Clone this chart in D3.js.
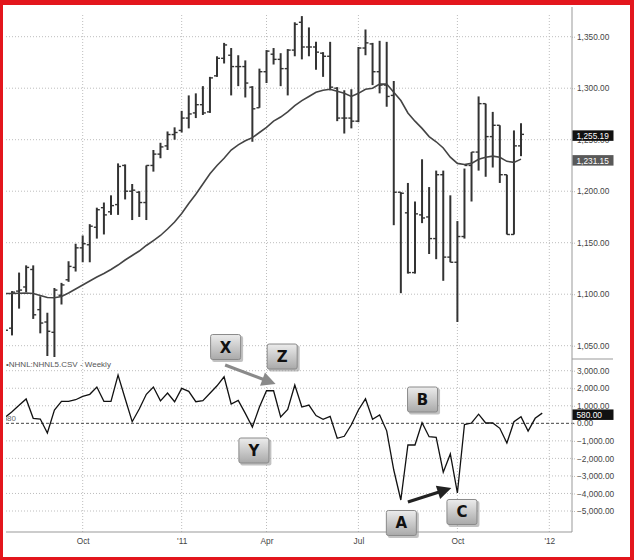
<!DOCTYPE html>
<html><head><meta charset="utf-8">
<script src="https://cdn.jsdelivr.net/npm/d3@7"></script>
<style>body{margin:0;background:#fff}svg{display:block}</style>
</head><body>
<svg id="c" width="634" height="560"></svg>
<script>
// ---------- DATA ----------
const firstWeek = "2010-07-16";   // weekly bars (Fridays)
const open  = [1070,1067,1103,1107,1124,1085,1073,1063,1099,1114,1126,1145,1148,1165,1184,1180,1187,1225,1200,1199,1189,1225,1236,1244,1255,1259,1271,1276,1284,1277,1312,1329,1332,1321,1321,1301,1281,1316,1333,1328,1319,1337,1364,1340,1340,1334,1331,1300,1271,1271,1268,1339,1343,1316,1303,1293,1199,1179,1121,1177,1175,1154,1216,1136,1131,1156,1225,1238,1285,1253,1264,1216,1158,1244];
const high  = [1076,1103,1121,1128,1128,1098,1082,1106,1111,1132,1149,1157,1168,1184,1189,1196,1227,1226,1207,1200,1225,1240,1247,1258,1262,1278,1293,1295,1302,1311,1331,1344,1339,1332,1327,1302,1319,1337,1339,1334,1338,1364,1370,1359,1345,1335,1345,1301,1298,1299,1340,1357,1344,1346,1345,1307,1199,1208,1190,1231,1204,1220,1220,1196,1171,1222,1238,1292,1285,1277,1264,1216,1259,1266];
const low   = [1058,1060,1086,1102,1076,1062,1040,1039,1090,1112,1122,1131,1131,1154,1158,1177,1177,1192,1172,1175,1172,1219,1232,1240,1250,1257,1261,1271,1274,1276,1311,1324,1293,1302,1291,1248,1281,1305,1323,1302,1293,1331,1328,1331,1318,1311,1298,1268,1256,1261,1267,1332,1303,1295,1282,1167,1101,1120,1120,1169,1139,1134,1113,1131,1073,1154,1190,1220,1214,1223,1208,1158,1158,1234];
const close = [1065,1102,1104,1126,1080,1072,1064,1104,1109,1127,1145,1149,1166,1182,1177,1186,1224,1200,1201,1189,1225,1236,1243,1255,1257,1271,1275,1284,1276,1310,1329,1342,1321,1321,1305,1280,1316,1336,1328,1319,1337,1362,1340,1340,1335,1331,1301,1271,1271,1268,1339,1344,1316,1303,1292,1199,1198,1121,1178,1174,1154,1216,1136,1131,1156,1225,1238,1285,1253,1264,1216,1158,1244,1255.19];
const movingAvg = [1100.7,1100.7,1100.9,1101.2,1100.7,1098.7,1096.8,1096.6,1097.8,1101.2,1105.0,1108.9,1112.8,1116.7,1120.1,1124.0,1128.3,1133.2,1137.6,1141.9,1147.3,1152.1,1157.0,1163.3,1170.1,1178.3,1188.1,1197,1207,1217,1225,1232,1240,1245,1249,1252,1257,1262,1268,1272,1277,1283,1288,1292,1296,1298,1299,1297,1295,1292,1295,1299,1300,1304,1304,1296,1288,1276,1268,1261,1253,1248,1242,1233,1227,1226,1227,1231,1233,1234,1233,1229,1228,1231.15];
const nhnl = [330,660,1030,1390,285,245,-553,758,1254,1254,1345,1539,1653,2069,1254,1254,2753,1414,91,815,1653,2069,1283,1727,1231,1995,1824,1231,1288,1710,2138,2656,1100,1311,570,-211,929,1858,1858,359,798,2183,929,1043,445,228,399,-855,-741,-80,758,1397,228,473,-428,-2662,-4372,-1237,-1237,34,-764,-798,-2787,-1750,-3973,-68,17,519,17,17,-285,-1123,91,376,-439,285,580];
const priceTicks = [1050,1100,1150,1200,1250,1300,1350];
const nhnlTicks = [-5000,-4000,-3000,-2000,-1000,0,1000,2000,3000];
const timeTicks = ["2010-10-01","2011-01-07","2011-04-01","2011-07-01","2011-10-07","2012-01-06"];
const timeTickLabels = ["Oct","'11","Apr","Jul","Oct","'12"];
const seriesTitle = "\u2022NHNL:NHNL5.CSV - Weekly";
const annoLabels = ["X","Z","Y","B","A","C"];
const annoDates  = ["2011-02-20","2011-04-17","2011-03-20","2011-09-03","2011-08-13","2011-10-12"];
const annoValues = [4350,3808,-1551,1357,-5684,-5057];
const arrowFrom = [["2011-02-19",3324],["2011-08-19",-4487]];
const arrowTo   = [["2011-04-10",2240],["2011-10-01",-3689]];
const arrowColors = ["#8a8a8a","#222"];

// ---------- LAYOUT ----------
const L=6, R=572, pTop=7, pBot=359, iBot=532;
const parse = d3.timeParse("%Y-%m-%d");
const t0 = parse(firstWeek);
const svg = d3.select("#c");
const font = "Arial, 'Liberation Sans', sans-serif";

const x = d3.scaleTime().domain([parse("2010-10-01"), parse("2012-01-06")]).range([82.7, 549.3]);
const yP = d3.scaleLinear().domain([1050,1350]).range([345.7,36.7]);
const yI = d3.scaleLinear().domain([-5000,3000]).range([511,370.7]);

const bars = open.map((o,i)=>({date:d3.timeDay.offset(t0,7*i),o,h:high[i],l:low[i],c:close[i],ma:movingAvg[i]}));
const ind = nhnl.map((v,i)=>({date:d3.timeDay.offset(t0,7*i),v}));

const defs = svg.append("defs");
defs.append("clipPath").attr("id","cp").append("rect").attr("x",L).attr("y",pTop).attr("width",R-L).attr("height",pBot-pTop);
defs.append("clipPath").attr("id","ci").append("rect").attr("x",L).attr("y",pBot).attr("width",R-L).attr("height",iBot-pBot);
defs.append("clipPath").attr("id","cl").append("rect").attr("x",L).attr("y",0).attr("width",R-L).attr("height",560);
const grad = defs.append("linearGradient").attr("id","bg").attr("x1",0).attr("y1",0).attr("x2",0).attr("y2",1);
grad.append("stop").attr("offset","0%").attr("stop-color","#ececec");
grad.append("stop").attr("offset","100%").attr("stop-color","#a9a9a9");

// grid
const grid = svg.append("g");
grid.selectAll(".gp").data(priceTicks).join("line")
  .attr("x1",L).attr("x2",R).attr("y1",d=>yP(d)).attr("y2",d=>yP(d))
  .attr("stroke","#bdbdbd").attr("stroke-dasharray","1,2");
grid.selectAll(".gi").data(nhnlTicks.filter(d=>d!==0)).join("line")
  .attr("x1",L).attr("x2",R).attr("y1",d=>yI(d)).attr("y2",d=>yI(d))
  .attr("stroke","#bdbdbd").attr("stroke-dasharray","1,2");
grid.selectAll(".gv").data(timeTicks).join("line")
  .attr("x1",d=>x(parse(d))).attr("x2",d=>x(parse(d))).attr("y1",15).attr("y2",iBot)
  .attr("stroke","#bdbdbd").attr("stroke-dasharray","1,2");
grid.append("line").attr("x1",L).attr("x2",R+4).attr("y1",yI(0)).attr("y2",yI(0))
  .attr("stroke","#444").attr("stroke-dasharray","3,2");

// price bars
const gp = svg.append("g").attr("clip-path","url(#cp)");
gp.selectAll(".hl").data(bars).join("line")
  .attr("x1",d=>x(d.date)).attr("x2",d=>x(d.date)).attr("y1",d=>yP(d.h)).attr("y2",d=>yP(d.l))
  .attr("stroke","#333").attr("stroke-width",2);
gp.selectAll(".op").data(bars).join("line")
  .attr("x1",d=>x(d.date)-3).attr("x2",d=>x(d.date)).attr("y1",d=>yP(d.o)).attr("y2",d=>yP(d.o))
  .attr("stroke","#333").attr("stroke-width",1.4);
gp.selectAll(".cl").data(bars).join("line")
  .attr("x1",d=>x(d.date)).attr("x2",d=>x(d.date)+3).attr("y1",d=>yP(d.c)).attr("y2",d=>yP(d.c))
  .attr("stroke","#333").attr("stroke-width",1.4);
gp.append("path").datum(bars)
  .attr("d",d3.line().x(d=>x(d.date)).y(d=>yP(d.ma)))
  .attr("fill","none").attr("stroke","#444").attr("stroke-width",1.6);

// indicator
const gi = svg.append("g").attr("clip-path","url(#ci)");
gi.append("path").datum(ind)
  .attr("d",d3.line().x(d=>x(d.date)).y(d=>yI(d.v)))
  .attr("fill","none").attr("stroke","#111").attr("stroke-width",1.3);

// axes
function styleAxis(g){
  g.select(".domain").remove();
  g.selectAll(".tick line").attr("stroke","#bbb").attr("stroke-dasharray","1,1");
  g.selectAll(".tick text").attr("fill","#444").style("font-family",font).style("font-size","8.3px");
}
svg.append("g").attr("transform",`translate(${R},0)`)
  .call(d3.axisRight(yP).tickValues(priceTicks).tickFormat(d3.format(",.2f")).tickSize(4).tickPadding(1))
  .call(styleAxis);
svg.append("g").attr("transform",`translate(${R},0)`)
  .call(d3.axisRight(yI).tickValues(nhnlTicks).tickFormat(d3.format(",.2f")).tickSize(4).tickPadding(1))
  .call(styleAxis);
svg.append("g").attr("transform",`translate(0,${iBot})`)
  .call(d3.axisBottom(x).tickValues(timeTicks.map(parse)).tickFormat((d,i)=>timeTickLabels[i]).tickSize(0).tickPadding(6))
  .call(styleAxis);

// frame lines
svg.append("line").attr("x1",R).attr("x2",R).attr("y1",7).attr("y2",iBot).attr("stroke","#999");
svg.append("line").attr("x1",R).attr("x2",613).attr("y1",pBot).attr("y2",pBot).attr("stroke","#999");
svg.append("line").attr("x1",L).attr("x2",R).attr("y1",iBot).attr("y2",iBot).attr("stroke","#999");

// last value boxes
const lastVals = [
  {v:close[close.length-1], s:yP, bg:"#111", dy:1.5},
  {v:movingAvg[movingAvg.length-1], s:yP, bg:"#595959", dy:1.5},
  {v:nhnl[nhnl.length-1], s:yI, bg:"#111", dy:1.8}
];
const lb = svg.append("g").selectAll("g").data(lastVals).join("g")
  .attr("transform",d=>`translate(${R+0.5},${d.s(d.v)+d.dy})`);
lb.append("rect").attr("x",0).attr("y",-5.5).attr("width",41).attr("height",10.5).attr("fill",d=>d.bg);
lb.append("text").attr("x",4).attr("y",3).text(d=>d3.format(",.2f")(d.v))
  .attr("fill","#fff").style("font-family",font).style("font-size","8.3px");

// series title
svg.append("text").attr("x",L).attr("y",367).text(seriesTitle)
  .attr("fill","#555").style("font-family",font).style("font-size","8px");
svg.append("g").attr("clip-path","url(#cl)").append("text").attr("x",16).attr("y",yI(nhnl[0])+3)
  .attr("text-anchor","end").text(d3.format("d")(nhnl[nhnl.length-1]))
  .attr("fill","#666").style("font-family",font).style("font-size","8px");

// arrows
arrowFrom.forEach((f,i)=>{
  const sx=x(parse(f[0])), sy=yI(f[1]);
  const tx=x(parse(arrowTo[i][0])), ty=yI(arrowTo[i][1]);
  const dx=tx-sx, dy=ty-sy, len=Math.hypot(dx,dy), ux=dx/len, uy=dy/len;
  const hl=14, hw=7;
  const bx=tx-ux*hl, by=ty-uy*hl;
  svg.append("line").attr("x1",sx).attr("y1",sy).attr("x2",bx+ux*2).attr("y2",by+uy*2)
    .attr("stroke",arrowColors[i]).attr("stroke-width",3.2);
  svg.append("path").attr("d",`M${tx},${ty}L${bx-uy*hw},${by+ux*hw}L${bx+uy*hw},${by-ux*hw}Z`)
    .attr("fill",arrowColors[i]);
});

// annotation boxes
const ab = svg.append("g").selectAll("g").data(annoLabels).join("g")
  .attr("transform",(d,i)=>`translate(${x(parse(annoDates[i]))},${yI(annoValues[i])})`);
ab.append("rect").attr("x",-14).attr("y",-11).attr("width",31).attr("height",26).attr("rx",2).attr("fill","#9a9a9a").attr("opacity",0.6);
ab.append("rect").attr("x",-15.5).attr("y",-12.5).attr("width",30).attr("height",25).attr("rx",2)
  .attr("fill","url(#bg)").attr("stroke","#8a8a8a");
ab.append("text").attr("x",-0.5).attr("y",5.5).attr("text-anchor","middle").text(d=>d)
  .attr("fill","#111").style("font-family","'DejaVu Sans', sans-serif").style("font-weight","900").style("font-size","15px");

// red frame
const red="#e3161d";
svg.append("rect").attr("x",0).attr("y",0).attr("width",634).attr("height",5).attr("fill",red);
svg.append("rect").attr("x",0).attr("y",0).attr("width",3).attr("height",560).attr("fill",red);
svg.append("rect").attr("x",630).attr("y",0).attr("width",4).attr("height",560).attr("fill",red);
svg.append("rect").attr("x",0).attr("y",557).attr("width",634).attr("height",3).attr("fill",red);
</script>
</body></html>
